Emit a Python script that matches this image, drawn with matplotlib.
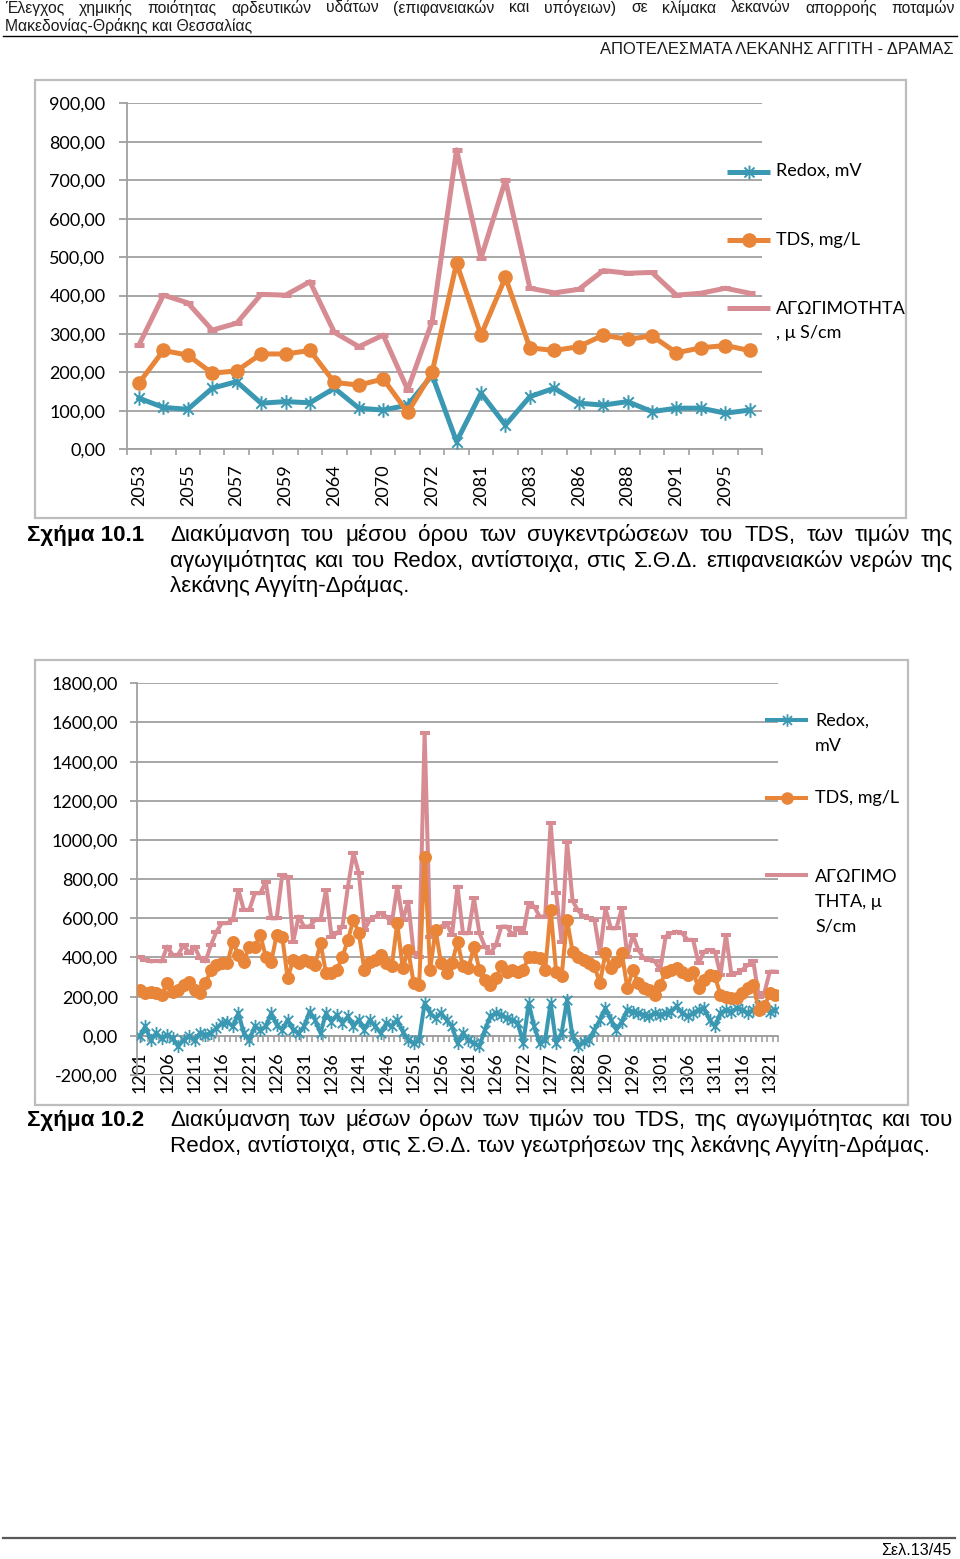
import matplotlib
matplotlib.use('Agg')
import matplotlib.pyplot as plt
from matplotlib.path import Path
from matplotlib.lines import Line2D
from matplotlib.patches import Rectangle
from matplotlib.ticker import FuncFormatter, FixedLocator
import numpy as np

# ---------------- DATA ----------------
series_names = ["Redox, mV", "TDS, mg/L", "ΑΓΩΓΙΜΟΤΗΤΑ, μ S/cm"]

cats1 = ['2053', '2054', '2055', '2056', '2057', '2058', '2059', '2060', '2064', '2065',
         '2070', '2071', '2072', '2080', '2081', '2082', '2083', '2084', '2086', '2087',
         '2088', '2089', '2091', '2093', '2095', '2096']
redox1 = [133, 109, 104, 159, 176, 120, 124, 121, 159, 107, 102, 115, 193, 20, 146, 63,
          137, 159, 120, 115, 124, 98, 107, 107, 94, 102]
tds1 = [172, 257, 245, 198, 204, 248, 248, 257, 174, 167, 183, 96, 200, 484, 297, 447,
        264, 257, 267, 297, 286, 295, 251, 264, 270, 257]
cond1 = [271, 401, 381, 310, 328, 403, 401, 436, 304, 267, 297, 155, 332, 779, 497, 700,
         419, 407, 416, 465, 458, 460, 401, 406, 419, 406]

# groundwater station ids (some ids missing in the series)
cats2 = ([str(v) for v in range(1201, 1271)] + ['1272', '1273', '1274', '1275', '1276', '1277',
         '1278', '1279', '1280', '1281', '1282', '1283', '1285', '1287', '1288', '1290',
         '1291', '1292', '1293', '1295', '1296'] + [str(v) for v in range(1297, 1323)])
redox2 = [-3, 48, -20, 14, -12, 5, -12, -54, -20, -3, -20, 14, 5, 14, 39, 65, 73, 48, 116, 14,
          -20, 48, 31, 48, 116, 56, 31, 82, 31, 14, 48, 124, 82, 14, 116, 73, 107, 65, 99, 48,
          82, 31, 82, 48, 14, 65, 48, 82, 22, -20, -37, -20, 167, 116, 90, 116, 82, 48, -37, 14,
          -20, -37, -54, 31, 99, 116, 107, 90, 82, 65, -37, 167, 48, -37, -20, 167, -37, 14, 184, -3,
          -54, -29, -20, 31, 82, 141, 82, 31, 73, 133, 124, 116, 107, 99, 116, 107, 116, 124, 150, 116,
          99, 116, 133, 141, 82, 48, 116, 133, 124, 141, 133, 116, 133, 150, 141, 124, 133]
tds2 = [235, 218, 226, 218, 209, 269, 226, 235, 260, 277, 235, 218, 269, 337, 362, 371, 371, 481, 413, 379,
        456, 456, 515, 405, 379, 515, 507, 294, 388, 371, 388, 379, 362, 473, 320, 320, 337, 405, 490, 592,
        524, 337, 379, 388, 413, 371, 354, 575, 345, 439, 269, 260, 915, 337, 541, 371, 320, 371, 481, 354,
        345, 456, 337, 286, 260, 294, 354, 328, 337, 328, 337, 405, 405, 396, 337, 643, 328, 303, 592, 430,
        405, 388, 371, 354, 269, 422, 345, 379, 422, 243, 337, 269, 243, 235, 209, 260, 328, 337, 345, 328,
        311, 328, 243, 286, 311, 303, 209, 200, 192, 192, 218, 243, 260, 133, 150, 218, 209]
cond2 = [400, 388, 380, 383, 380, 456, 413, 413, 464, 422, 455, 396, 380, 464, 532, 575, 575, 592, 745, 643,
         643, 728, 728, 787, 600, 600, 821, 813, 481, 609, 558, 558, 592, 592, 745, 507, 524, 558, 762, 932,
         830, 541, 592, 609, 626, 609, 575, 762, 592, 685, 422, 405, 1544, 507, 524, 558, 575, 515, 762, 524,
         524, 702, 524, 456, 422, 464, 558, 558, 515, 549, 524, 677, 660, 609, 609, 1085, 728, 481, 991, 690,
         640, 610, 600, 592, 422, 651, 549, 549, 651, 405, 515, 439, 396, 388, 380, 337, 507, 524, 532, 524,
         490, 490, 371, 430, 439, 430, 311, 515, 311, 320, 337, 362, 380, 200, 218, 328, 328]

# ---------------- STYLE ----------------
W, H = 960, 1559
TEAL = '#3A98B2'
ORANGE = '#E88538'
PINK = '#D68C92'
GRID = '#A0A0A0'
FRAME = '#BDBDBD'
TEXT_FONT = ['Liberation Sans', 'DejaVu Sans']
CHART_FONT = ['Lato', 'Noto Sans', 'DejaVu Sans']

fig = plt.figure(figsize=(W / 100, H / 100), dpi=100)
fig.patch.set_facecolor('white')
renderer = fig.canvas.get_renderer()


def fx(x):
    return x / W


def fy(y):
    return 1 - y / H


def width_px(text, size, family, weight='normal'):
    t = fig.text(0, 0, text, fontsize=size, family=family, weight=weight)
    w = t.get_window_extent(renderer=renderer).width
    t.remove()
    return w


def fit(text, target, family, weight='normal'):
    return 12 * target / width_px(text, 12, family, weight)


def justify(text, x0, x1, ybase, size, family, weight='normal', color='black'):
    words = text.split()
    widths = [width_px(w, size, family, weight) for w in words]
    gap = (x1 - x0 - sum(widths)) / (len(words) - 1)
    x = x0
    for w, wd in zip(words, widths):
        fig.text(fx(x), fy(ybase), w, fontsize=size, family=family, weight=weight,
                 va='baseline', ha='left', color=color)
        x += wd + gap


# asterisk marker (X + vertical bar) like Excel's star marker
star = Path([(0, -1), (0, 1), (-0.72, -0.72), (0.72, 0.72), (-0.72, 0.72), (0.72, -0.72)],
            [Path.MOVETO, Path.LINETO, Path.MOVETO, Path.LINETO, Path.MOVETO, Path.LINETO])

# ---------------- PAGE TEXT ----------------
hsize = 11.3
justify("Έλεγχος χημικής ποιότητας αρδευτικών υδάτων (επιφανειακών και υπόγειων) σε κλίμακα "
        "λεκανών απορροής ποταμών", 5, 955, 12.5, hsize, TEXT_FONT, color='#1a1a1a')
fig.text(fx(5), fy(31), "Μακεδονίας-Θράκης και Θεσσαλίας", fontsize=hsize, family=TEXT_FONT,
         va='baseline', color='#1a1a1a')
fig.add_artist(Line2D([fx(3), fx(957)], [fy(36), fy(36)], transform=fig.transFigure,
                      color='black', lw=1.0))
rsize = fit("ΑΠΟΤΕΛΕΣΜΑΤΑ ΛΕΚΑΝΗΣ ΑΓΓΙΤΗ - ΔΡΑΜΑΣ", 353, TEXT_FONT)
fig.text(fx(953), fy(53.5), "ΑΠΟΤΕΛΕΣΜΑΤΑ ΛΕΚΑΝΗΣ ΑΓΓΙΤΗ - ΔΡΑΜΑΣ", fontsize=rsize,
         family=TEXT_FONT, ha='right', va='baseline', color='#1a1a1a')

csize = fit("Redox, αντίστοιχα, στις Σ.Θ.Δ. των γεωτρήσεων της λεκάνης Αγγίτη-Δράμας.", 757, TEXT_FONT)
fig.text(fx(27), fy(541), "Σχήμα 10.1", fontsize=csize, family=TEXT_FONT, weight='bold', va='baseline')
justify("Διακύμανση του μέσου όρου των συγκεντρώσεων του TDS, των τιμών της", 170, 953, 541, csize, TEXT_FONT)
justify("αγωγιμότητας και του Redox, αντίστοιχα, στις Σ.Θ.Δ. επιφανειακών νερών της", 170, 953, 566.7,
        csize, TEXT_FONT)
fig.text(fx(170), fy(592.3), "λεκάνης Αγγίτη-Δράμας.", fontsize=csize, family=TEXT_FONT, va='baseline')

fig.text(fx(27), fy(1126), "Σχήμα 10.2", fontsize=csize, family=TEXT_FONT, weight='bold', va='baseline')
justify("Διακύμανση των μέσων όρων των τιμών του TDS, της αγωγιμότητας και του", 170, 953, 1126,
        csize, TEXT_FONT)
fig.text(fx(170), fy(1151.7), "Redox, αντίστοιχα, στις Σ.Θ.Δ. των γεωτρήσεων της λεκάνης Αγγίτη-Δράμας.",
         fontsize=csize, family=TEXT_FONT, va='baseline')

fig.add_artist(Line2D([fx(3), fx(955)], [fy(1537.5), fy(1537.5)], transform=fig.transFigure,
                      color='#595959', lw=1.6))
psize = fit("Σελ.13/45", 70, TEXT_FONT)
fig.text(fx(951), fy(1555), "Σελ.13/45", fontsize=psize, family=TEXT_FONT, ha='right', va='baseline')

# chart frames
fig.patches.append(Rectangle((fx(35), fy(518)), (906 - 35) / W, (518 - 80) / H, transform=fig.transFigure,
                             fill=False, ec=FRAME, lw=1.6))
fig.patches.append(Rectangle((fx(35), fy(1105)), (908 - 35) / W, (1105 - 660) / H, transform=fig.transFigure,
                             fill=False, ec=FRAME, lw=1.6))

TICK_FS = 13


def style_axes(ax, ymin, ymax, ystep, cats, every, ylabpad, xlabpad, ytick_len, xaxis_at=None):
    n = len(cats)
    if xaxis_at is not None:
        ax.spines['bottom'].set_position(('data', xaxis_at))
    ax.set_xlim(-0.5, n - 0.5)
    ax.set_ylim(ymin, ymax)
    ax.set_yticks(np.arange(ymin, ymax + 1, ystep))
    ax.yaxis.set_major_formatter(FuncFormatter(lambda v, p: f"{v:.2f}".replace('.', ',')))
    ax.grid(axis='y', color=GRID, lw=1.3)
    ax.set_axisbelow(True)
    for s in ['top', 'right']:
        ax.spines[s].set_visible(False)
    for s in ['left', 'bottom']:
        ax.spines[s].set_color(GRID)
        ax.spines[s].set_linewidth(1.3)
    ax.tick_params(axis='y', length=ytick_len * 0.72, width=1.3, color=GRID, pad=ylabpad,
                   labelsize=TICK_FS, labelcolor='black')
    idx = list(range(0, n, every))
    ax.xaxis.set_major_locator(FixedLocator(idx))
    ax.set_xticklabels([cats[i] for i in idx], rotation=90, fontsize=TICK_FS, family=CHART_FONT)
    ax.xaxis.set_minor_locator(FixedLocator(np.arange(-0.5, n, 1.0)))
    ax.tick_params(axis='x', which='major', length=0, pad=xlabpad, labelrotation=90)
    ax.tick_params(axis='x', which='minor', length=6 * 0.72, width=1.2, color=GRID)
    for lab in ax.get_yticklabels():
        lab.set_family(CHART_FONT)


# ---------------- CHART 1 ----------------
ax1 = fig.add_axes([fx(126.7), fy(449.3), (762 - 126.7) / W, 346 / H])
x1 = np.arange(len(cats1))
ax1.plot(x1, redox1, color=TEAL, lw=3.6, marker=star, ms=10.5, mec=TEAL, mfc='none', mew=1.4, zorder=3)
ax1.plot(x1, cond1, color=PINK, lw=3.6, marker='_', ms=7, mec=PINK, mew=3.6, zorder=4)
ax1.plot(x1, tds1, color=ORANGE, lw=3.6, marker='o', ms=9.5, mec=ORANGE, mfc=ORANGE, zorder=5)
style_axes(ax1, 0, 900, 100, cats1, 2, ylabpad=9.5, xlabpad=11, ytick_len=8)

# ---------------- CHART 2 ----------------
ax2 = fig.add_axes([fx(137), fy(1075), 641 / W, 391.7 / H])
x2 = np.arange(len(cats2))
ax2.plot(x2, redox2, color=TEAL, lw=2.9, marker=star, ms=9.5, mec=TEAL, mfc='none', mew=1.3, zorder=3)
ax2.plot(x2, cond2, color=PINK, lw=2.9, marker='_', ms=6.5, mec=PINK, mew=2.9, zorder=4)
ax2.plot(x2, tds2, color=ORANGE, lw=2.9, marker='o', ms=8.3, mec=ORANGE, mfc=ORANGE, zorder=5)
style_axes(ax2, -200, 1800, 200, cats2, 5, ylabpad=8.6, xlabpad=11.5, ytick_len=7, xaxis_at=0)


# ---------------- LEGENDS ----------------
def legend_entry(x0, x1_, y, color, lw, marker=None, ms=None, mew=None, mfc=None):
    fig.add_artist(Line2D([fx(x0), fx(x1_)], [fy(y), fy(y)], transform=fig.transFigure, color=color,
                          lw=lw, solid_capstyle='butt'))
    if marker is not None:
        fig.add_artist(Line2D([fx((x0 + x1_) / 2)], [fy(y)], transform=fig.transFigure, color=color,
                              marker=marker, ms=ms, mew=mew, mec=color, mfc=mfc, lw=0))


def legend_text(x, y, s):
    fig.text(fx(x), fy(y), s, fontsize=TICK_FS, family=CHART_FONT, va='center', ha='left')


legend_entry(727, 770, 171.5, TEAL, 3.6, star, 10, 1.4, 'none')
legend_text(776, 170.5, "Redox, mV")
legend_entry(727, 770, 240, ORANGE, 3.6, 'o', 9.5, 1, ORANGE)
legend_text(776, 240, "TDS, mg/L")
legend_entry(727, 770, 308, PINK, 3.6)
legend_text(776, 309, "ΑΓΩΓΙΜΟΤΗΤΑ")
legend_text(776, 333, ", μ S/cm")

legend_entry(765, 808, 720, TEAL, 2.9, star, 9, 1.3, 'none')
legend_text(815, 721, "Redox,")
legend_text(815, 746, "mV")
legend_entry(765, 808, 798, ORANGE, 2.9, 'o', 8, 1, ORANGE)
legend_text(815, 798, "TDS, mg/L")
legend_entry(765, 808, 875, PINK, 2.9)
legend_text(815, 877, "ΑΓΩΓΙΜΟ")
legend_text(815, 902, "ΤΗΤΑ, μ")
legend_text(815, 926, "S/cm")

fig.savefig('out.png', dpi=100, facecolor='white')
